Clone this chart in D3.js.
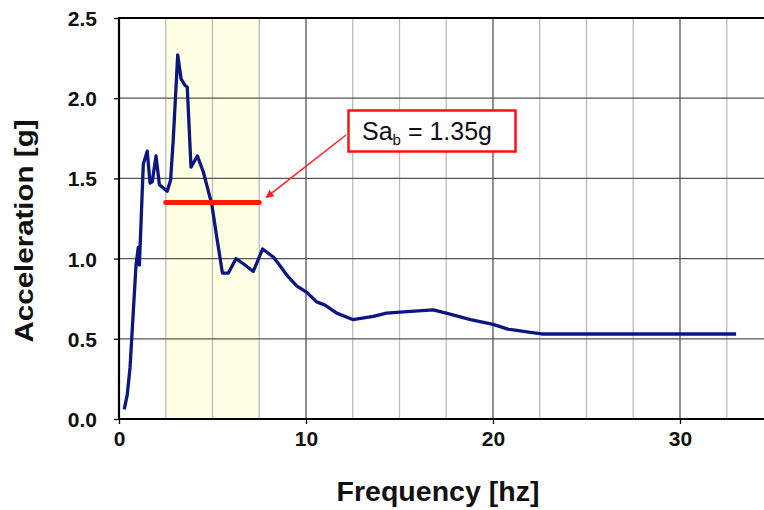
<!DOCTYPE html>
<html>
<head>
<meta charset="utf-8">
<script src="https://cdn.jsdelivr.net/npm/d3@7"></script>
<style>
  body { margin: 0; background: #fff; }
  text { font-family: "Liberation Sans", Arial, sans-serif; }
</style>
</head>
<body>
<svg width="764" height="510"></svg>
<script>
  // spectrum
  const freq = [0.28, 0.44, 0.59, 0.77, 0.91, 1.03, 1.09, 1.21, 1.30, 1.51, 1.66, 1.78, 1.98, 2.16, 2.37, 2.58, 2.76, 2.90, 3.14, 3.32, 3.53, 3.65, 3.85, 4.19, 4.51, 4.96, 5.22, 5.53, 5.85, 6.26, 6.74, 7.18, 7.68, 8.25, 8.52, 9.02, 9.50, 10.04, 10.57, 11.02, 11.64, 12.5, 13.6, 14.3, 15.4, 16.8, 17.5, 18.8, 20.0, 20.8, 22.0, 22.6, 33.0];
  const accel = [0.06, 0.15, 0.32, 0.68, 0.96, 1.07, 0.96, 1.32, 1.59, 1.67, 1.47, 1.48, 1.64, 1.46, 1.44, 1.42, 1.49, 1.74, 2.27, 2.12, 2.08, 2.07, 1.57, 1.64, 1.54, 1.34, 1.14, 0.91, 0.91, 1.00, 0.96, 0.92, 1.06, 1.01, 0.97, 0.89, 0.83, 0.79, 0.73, 0.71, 0.66, 0.62, 0.64, 0.66, 0.67, 0.68, 0.66, 0.62, 0.59, 0.56, 0.54, 0.53, 0.53];

  const band = [2.5, 7.5];
  const sab = 1.35;
  const xTicks = [0, 10, 20, 30];
  const xMinor = d3.range(2.5, 35, 2.5);
  const yTicks = [0, 0.5, 1.0, 1.5, 2.0, 2.5];

  const svg = d3.select("svg");
  const m = { left: 119, top: 18, bottom: 419 };
  const x = d3.scaleLinear().domain([0, 35]).range([m.left, m.left + 35 * 18.7]);
  const y = d3.scaleLinear().domain([0, 2.5]).range([m.bottom, m.top]);
  const right = x(35);

  // yellow band
  svg.append("rect")
    .attr("x", x(band[0])).attr("y", m.top)
    .attr("width", x(band[1]) - x(band[0])).attr("height", m.bottom - m.top)
    .attr("fill", "#ffffe3");

  // grid
  svg.append("g").selectAll("line").data(xMinor).join("line")
    .attr("x1", d => x(d)).attr("x2", d => x(d))
    .attr("y1", m.top).attr("y2", m.bottom)
    .attr("stroke", d => d % 10 === 0 ? "#555" : "#bbb")
    .attr("stroke-width", 1.3);
  svg.append("g").selectAll("line").data(yTicks.slice(1, -1)).join("line")
    .attr("x1", m.left).attr("x2", right)
    .attr("y1", d => y(d)).attr("y2", d => y(d))
    .attr("stroke", "#555").attr("stroke-width", 1.3);

  // axes
  const xAxis = svg.append("g").attr("transform", `translate(0,${m.bottom})`)
    .call(d3.axisBottom(x).tickValues(xTicks).tickSize(5).tickPadding(7).tickFormat(d3.format("d")));
  const yAxis = svg.append("g").attr("transform", `translate(${m.left},0)`)
    .call(d3.axisLeft(y).tickValues(yTicks).tickSize(5).tickPadding(17).tickFormat(d3.format(".1f")));
  [xAxis, yAxis].forEach(g => {
    g.select(".domain").remove();
    g.selectAll("line").attr("stroke", "#000").attr("stroke-width", 1.3);
    g.selectAll("text").attr("font-size", 21).attr("font-weight", "bold")
      .attr("fill", "#111").style("font-family", "Liberation Sans, Arial, sans-serif");
  });
  yAxis.selectAll("text").attr("dy", "0.36em");

  // frame
  svg.append("path")
    .attr("d", `M${right},${m.top}H${m.left}V${m.bottom}H${right}`)
    .attr("fill", "none").attr("stroke", "#000").attr("stroke-width", 2.2);

  // curve
  const line = d3.line().x(d => x(d[0])).y(d => y(d[1]));
  svg.append("path")
    .datum(d3.zip(freq, accel))
    .attr("d", line)
    .attr("fill", "none").attr("stroke", "#0c1680")
    .attr("stroke-width", 3.3).attr("stroke-linejoin", "round");

  // Sa_b level
  svg.append("line")
    .attr("x1", x(band[0])).attr("x2", x(band[1]))
    .attr("y1", y(sab)).attr("y2", y(sab))
    .attr("stroke", "#ff1a00").attr("stroke-width", 5).attr("stroke-linecap", "round");

  // callout
  svg.append("defs").append("marker")
    .attr("id", "ah").attr("viewBox", "0 0 10 10").attr("refX", 9).attr("refY", 5)
    .attr("markerWidth", 11).attr("markerHeight", 8).attr("markerUnits", "userSpaceOnUse")
    .attr("orient", "auto")
    .append("path").attr("d", "M0,0L10,5L0,10z").attr("fill", "#ff2020");
  svg.append("line")
    .attr("x1", 346).attr("y1", 135).attr("x2", x(band[1]) + 7).attr("y2", y(sab) - 5)
    .attr("stroke", "#ff2020").attr("stroke-width", 1.5).attr("marker-end", "url(#ah)");
  svg.append("rect")
    .attr("x", 348.5).attr("y", 110.5).attr("width", 167).attr("height", 41)
    .attr("fill", "#fff").attr("stroke", "#ff1010").attr("stroke-width", 2.5);
  const t = svg.append("text").attr("x", 362).attr("y", 140)
    .attr("font-size", 25).attr("fill", "#111");
  t.append("tspan").text("Sa");
  t.append("tspan").attr("font-size", 15).attr("dy", 5).text("b");
  t.append("tspan").attr("dy", -5).text(" = 1.35g");

  // titles
  svg.append("text").attr("x", 438).attr("y", 501).attr("text-anchor", "middle")
    .attr("font-size", 27).attr("font-weight", "bold").attr("fill", "#111")
    .attr("textLength", 203).attr("lengthAdjust", "spacingAndGlyphs")
    .text("Frequency [hz]");
  svg.append("text").attr("transform", "translate(33,231) rotate(-90)")
    .attr("text-anchor", "middle")
    .attr("font-size", 26).attr("font-weight", "bold").attr("fill", "#111")
    .attr("textLength", 223).attr("lengthAdjust", "spacingAndGlyphs")
    .text("Acceleration [g]");
</script>
</body>
</html>
